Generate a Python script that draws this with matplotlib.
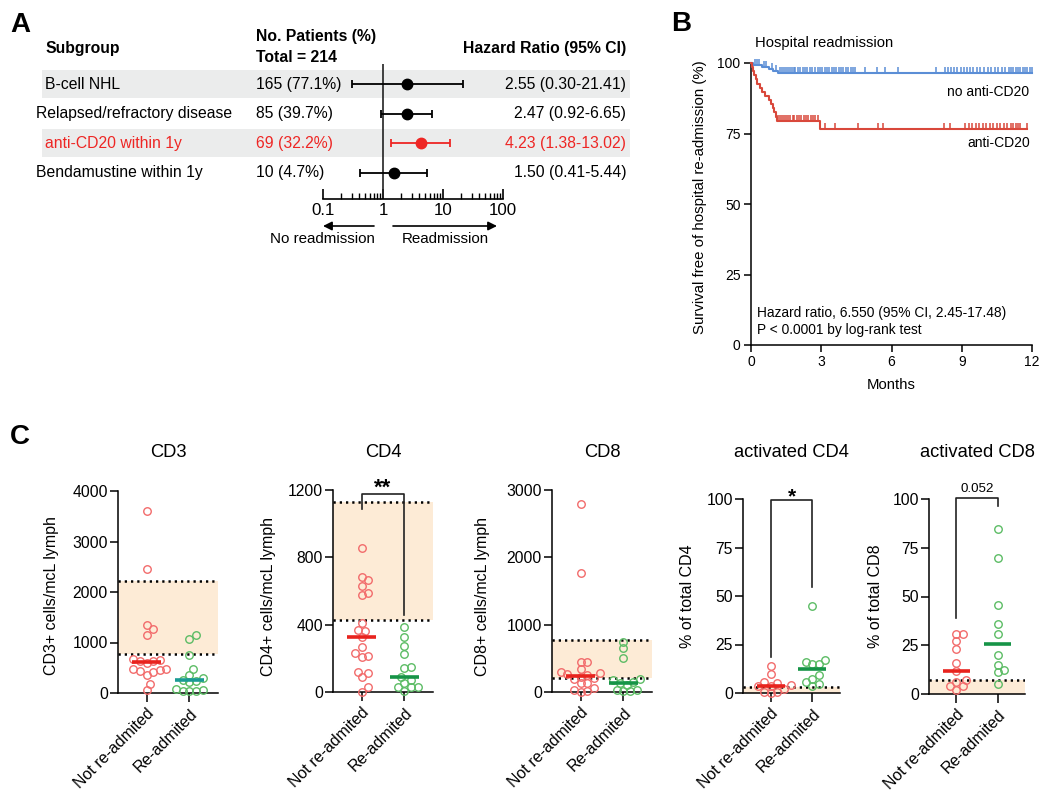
import numpy as np
import matplotlib
matplotlib.use('Agg')
import matplotlib.pyplot as plt
from matplotlib.ticker import LogLocator, NullFormatter
from matplotlib.transforms import blended_transform_factory

plt.rcParams['font.family'] = ['Liberation Sans', 'DejaVu Sans']
plt.rcParams['axes.linewidth'] = 1.1

W, H = 1050, 802

# ---------------- Panel A: forest plot ----------------
subgroups = ['B-cell NHL', 'Relapsed/refractory disease', 'anti-CD20 within 1y', 'Bendamustine within 1y']
patients = [165, 85, 69, 10]
patients_pct = [77.1, 39.7, 32.2, 4.7]
total_patients = 214
hr = [2.55, 2.47, 4.23, 1.50]
hr_lo = [0.30, 0.92, 1.38, 0.41]
hr_hi = [21.41, 6.65, 13.02, 5.44]
hr_highlight = [False, False, True, False]
row_shaded = [True, False, True, False]

# ---------------- Panel B: Kaplan-Meier ----------------
km_no_events = [0.1, 0.45, 0.75, 0.95, 1.15]
km_no_surv = [99.3, 98.6, 97.9, 97.1, 96.3]
km_no_cens = [0.15, 0.25, 0.35, 0.55, 0.65, 0.9, 1.05, 1.25, 1.32, 1.4, 1.5, 1.58, 1.65, 1.75,
              1.83, 1.9, 2.0, 2.1, 2.2, 2.3, 2.4, 2.5, 2.6, 2.75, 2.85, 2.95, 3.05, 3.15, 3.25,
              3.35, 3.45, 3.55, 3.65, 3.75, 3.85, 3.95, 4.05, 4.15, 4.25, 4.35, 4.44, 4.87, 5.4,
              5.72, 6.28, 7.9, 8.3, 8.42, 8.55, 8.65, 8.8, 8.95, 9.1, 9.22, 9.35, 9.5, 9.65, 9.8,
              9.95, 10.1, 10.25, 10.4, 10.55, 10.7, 10.85, 11.0, 11.1, 11.2, 11.3, 11.4, 11.5,
              11.6, 11.7, 11.8, 11.9, 12.0]
km_anti_events = [0.03, 0.08, 0.14, 0.2, 0.27, 0.38, 0.45, 0.6, 0.75, 0.86, 0.93, 1.0, 1.05, 1.1, 2.95]
km_anti_surv = [98.54, 97.08, 95.62, 94.16, 92.7, 91.24, 89.78, 88.32, 86.86, 85.4, 83.94, 82.48,
                81.02, 79.56, 76.6]
km_anti_cens = [1.17, 1.25, 1.33, 1.42, 1.5, 1.6, 1.68, 1.78, 1.85, 1.95, 2.05, 2.15, 2.25, 2.35,
                2.45, 2.55, 2.65, 2.75, 2.86, 3.16, 3.59, 4.57, 5.42, 5.64, 8.24, 8.5, 9.14, 9.3,
                9.45, 9.6, 9.75, 9.9, 10.05, 10.2, 10.35, 10.5, 10.65, 10.8, 10.95, 11.1, 11.2,
                11.3, 11.4, 11.5, 11.79]

# ---------------- Panel C: lymphocyte subsets ----------------
groups = ['Not re-admited', 'Re-admited']
cd3_not = [3600, 2450, 1350, 1260, 1150, 670, 650, 640, 630, 590, 480, 470, 460, 440, 420, 360, 180, 60]
cd3_re = [1150, 1060, 750, 475, 360, 300, 260, 240, 215, 75, 60, 45, 40, 30]
cd4_not = [854, 685, 665, 632, 586, 574, 408, 368, 364, 329, 265, 232, 214, 210, 121, 111, 87, 28, 2]
cd4_re = [388, 325, 275, 224, 150, 141, 90, 71, 51, 31, 28, 28, 8]
cd8_not = [2790, 1760, 450, 440, 340, 290, 280, 270, 250, 230, 210, 200, 140, 130, 60, 30, 20, 5]
cd8_re = [750, 650, 510, 190, 180, 150, 130, 110, 30, 25, 20, 15]
act_cd4_not = [14, 9.8, 5.5, 5.2, 4.1, 3.8, 3.4, 2.0, 0.7, 0.7, 0]
act_cd4_re = [45, 17, 16, 15, 15, 9.4, 7.3, 5.8, 4.6, 3.8]
act_cd8_not = [31, 31, 27, 23, 16, 12, 7.3, 6, 4, 4, 2]
act_cd8_re = [84.6, 69.6, 45.7, 35.8, 30.9, 20.1, 15, 12.1, 11.1, 5.1]

panel_titles = ['CD3', 'CD4', 'CD8', 'activated CD4', 'activated CD8']
panel_ylabels = ['CD3+ cells/mcL lymph', 'CD4+ cells/mcL lymph', 'CD8+ cells/mcL lymph',
                 '% of total CD4', '% of total CD8']
panel_yticks = [[0, 1000, 2000, 3000, 4000], [0, 400, 800, 1200], [0, 1000, 2000, 3000],
                [0, 25, 50, 75, 100], [0, 25, 50, 75, 100]]
# normal range (low, high); low=None -> shaded from 0 with a single dotted line
ref_ranges = [(770, 2220), (430, 1130), (210, 770), (None, 3), (None, 7)]
# significance: (label, bracket top, left leg end, right leg end)
sig_brackets = [None, ('**', 1175, 1085, 457), None, ('*', 99.5, 18.8, 54.4), ('0.052', 100.5, 39, 96.5)]

RED_PT = '#f26b6b'
GREEN_PT = '#5cbc65'
RED_MED = '#e8231e'
GREEN_MED = '#169447'
TEAL_MED = '#1a9b94'
SHADE = '#fdebd6'

fig = plt.figure(figsize=(W / 100, H / 100), dpi=100)


def fx(x):
    return x / W


def fy(y):
    return 1 - y / H


def axes_px(x0, y0, x1, y1):
    return fig.add_axes([x0 / W, 1 - y1 / H, (x1 - x0) / W, (y1 - y0) / H])


# panel letters
for letter, (px, py) in zip('ABC', [(20, 25), (681, 24), (20, 437)]):
    fig.text(fx(px), fy(py), letter, fontsize=20, fontweight='bold', ha='center', va='center')

# ================= Panel A =================
axf = axes_px(323, 64, 503, 199)
axf.set_xscale('log')
axf.set_xlim(0.1, 100)
axf.set_ylim(3.898, -0.678)
axf.patch.set_alpha(0)
for s in ['top', 'right', 'left']:
    axf.spines[s].set_visible(False)
axf.spines['bottom'].set_linewidth(1.2)
axf.set_yticks([])
axf.set_xticks([0.1, 1, 10, 100])
axf.set_xticklabels(['0.1', '1', '10', '100'], fontsize=12.2)
axf.xaxis.set_minor_locator(LogLocator(base=10, subs=np.arange(2, 10)))
axf.xaxis.set_minor_formatter(NullFormatter())
axf.tick_params(axis='x', which='major', direction='in', length=7, width=1.2, pad=3)
axf.tick_params(axis='x', which='minor', direction='in', length=4.3, width=1.0)
axf.axvline(1, color='#222222', lw=1.2, zorder=2)

trans_row = blended_transform_factory(fig.transFigure, axf.transData)
left_x = [45, 36, 45, 36]
for i, name in enumerate(subgroups):
    c = '#ee2624' if hr_highlight[i] else 'black'
    if row_shaded[i]:
        axf.axhspan(i - 0.458, i + 0.458, xmin=(42 - 323) / 180, xmax=(630 - 323) / 180,
                    color='#ebecec', zorder=0, clip_on=False, lw=0)
    axf.errorbar(hr[i], i, xerr=[[hr[i] - hr_lo[i]], [hr_hi[i] - hr[i]]], fmt='o', ms=7.5,
                 color=c, ecolor=c, elinewidth=1.3, capsize=3.2, capthick=1.3, zorder=3)
    axf.text(fx(left_x[i]), i, name, transform=trans_row, ha='left', va='center',
             fontsize=11.3, color=c)
    axf.text(fx(256), i, f'{patients[i]} ({patients_pct[i]}%)', transform=trans_row,
             ha='left', va='center', fontsize=11.3, color=c)
    axf.text(fx(626), i, f'{hr[i]:.2f} ({hr_lo[i]:.2f}-{hr_hi[i]:.2f})', transform=trans_row,
             ha='right', va='center', fontsize=11.3, color=c)

fig.text(fx(45), fy(48), 'Subgroup', fontsize=11.3, fontweight='bold', ha='left', va='center')
fig.text(fx(256), fy(37), 'No. Patients (%)', fontsize=11.3, fontweight='bold', ha='left', va='center')
fig.text(fx(256), fy(58), f'Total = {total_patients}', fontsize=11.3, fontweight='bold',
         ha='left', va='center')
fig.text(fx(626), fy(48), 'Hazard Ratio (95% CI)', fontsize=11.3, fontweight='bold',
         ha='right', va='center')

arrow_kw = dict(arrowstyle='-|>', color='black', lw=1.2, mutation_scale=13, shrinkA=0, shrinkB=0)
fig.patches.append(matplotlib.patches.FancyArrowPatch((fx(374), fy(226)), (fx(323), fy(226)),
                                                      transform=fig.transFigure, **arrow_kw))
fig.patches.append(matplotlib.patches.FancyArrowPatch((fx(393), fy(226)), (fx(497), fy(226)),
                                                      transform=fig.transFigure, **arrow_kw))
fig.text(fx(322), fy(239), 'No readmission', fontsize=10.9, ha='center', va='center')
fig.text(fx(445), fy(239), 'Readmission', fontsize=10.9, ha='center', va='center')

# ================= Panel B =================
axk = axes_px(751, 63, 1032, 345)
axk.set_xlim(0, 12)
axk.set_ylim(0, 100)
for s in ['top', 'right']:
    axk.spines[s].set_visible(False)
axk.set_xticks([0, 3, 6, 9, 12])
axk.set_yticks([0, 25, 50, 75, 100])
axk.tick_params(direction='out', length=5, width=1.1, labelsize=10, pad=2.5)


def km_curve(ax, ev_t, ev_s, cens, color):
    ev_t = np.asarray(ev_t)
    s_all = np.r_[100.0, ev_s]
    t_end = max(max(cens), ev_t.max())
    ax.step(np.r_[0, ev_t, t_end], np.r_[s_all, ev_s[-1]], where='post', color=color,
            lw=1.5, clip_on=False, zorder=3)
    cens = np.asarray(cens)
    cy = s_all[np.searchsorted(ev_t, cens, side='right')]
    ax.plot(cens, cy, ls='none', marker=2, ms=4, mew=1.1, color=color, clip_on=False, zorder=3)


km_curve(axk, km_no_events, km_no_surv, km_no_cens, '#5b8ed6')
km_curve(axk, km_anti_events, km_anti_surv, km_anti_cens, '#d9483b')
axk.text(11.87, 89.7, 'no anti-CD20', ha='right', va='center', fontsize=10)
axk.text(11.94, 71.6, 'anti-CD20', ha='right', va='center', fontsize=10)
axk.text(0.26, 11.3, 'Hazard ratio, 6.550 (95% CI, 2.45-17.48)', ha='left', va='center', fontsize=9.9)
axk.text(0.26, 5.3, 'P < 0.0001 by log-rank test', ha='left', va='center', fontsize=9.9)
fig.text(fx(755), fy(43), 'Hospital readmission', fontsize=10.7, ha='left', va='center')
fig.text(fx(700), fy(197), 'Survival free of hospital re-admission (%)', fontsize=10.8,
         rotation=90, ha='center', va='center')
fig.text(fx(891), fy(385), 'Months', fontsize=10.7, ha='center', va='center')

# ================= Panel C =================
panel_boxes = [(118, 491, 218, 693), (333, 490, 433, 692), (552, 490, 652, 692),
               (743, 499, 840, 693), (929, 499, 1025, 694)]
ylabel_x = [52, 268, 483, 687, 875]
panel_data = [(cd3_not, cd3_re), (cd4_not, cd4_re), (cd8_not, cd8_re),
              (act_cd4_not, act_cd4_re), (act_cd8_not, act_cd8_re)]
green_med = [TEAL_MED, GREEN_MED, GREEN_MED, GREEN_MED, GREEN_MED]


def swarm_offsets(vals, px_per_val, px_per_x, dist_px=6.6, step_px=3.3):
    ypx = np.asarray(vals, float) * px_per_val
    offs = np.zeros(len(ypx))
    placed = []
    for i in np.argsort(ypx):
        k = 0
        while True:
            cands = [0.0] if k == 0 else [k * step_px, -k * step_px]
            hit = None
            for c in cands:
                if all((c - px) ** 2 + (ypx[i] - py) ** 2 >= dist_px ** 2 for px, py in placed):
                    hit = c
                    break
            if hit is not None:
                offs[i] = hit
                placed.append((hit, ypx[i]))
                break
            k += 1
    return offs / px_per_x


for k in range(5):
    x0, y0, x1, y1 = panel_boxes[k]
    ax = axes_px(x0, y0, x1, y1)
    yt = panel_yticks[k]
    ax.set_xlim(-0.67, 1.67)
    ax.set_ylim(0, yt[-1])
    for s in ['top', 'right']:
        ax.spines[s].set_visible(False)
    ax.set_yticks(yt)
    ax.set_xticks([0, 1])
    ax.set_xticklabels(groups, rotation=45, ha='right', rotation_mode='anchor', fontsize=11.5)
    ax.tick_params(axis='y', direction='out', length=5.8, width=1.1, labelsize=11.3, pad=1.5)
    ax.tick_params(axis='x', direction='out', length=6.5, width=1.1, pad=3)

    lo, hi = ref_ranges[k]
    ax.axhspan(0 if lo is None else lo, hi, color=SHADE, lw=0, zorder=0)
    dot = dict(color='black', lw=1.8, ls=(0, (0.9, 1.6)), zorder=1)
    ax.axhline(hi, **dot)
    if lo is not None:
        ax.axhline(lo, **dot)

    px_per_val = (y1 - y0) / yt[-1]
    px_per_x = (x1 - x0) / 2.34
    for g, vals in enumerate(panel_data[k]):
        offs = swarm_offsets(vals, px_per_val, px_per_x)
        ec = RED_PT if g == 0 else GREEN_PT
        ax.plot(g + offs, vals, ls='none', marker='o', ms=5.4, mfc='none', mec=ec, mew=1.0,
                clip_on=False, zorder=3)
        med = np.median(vals)
        ax.plot([g - 0.34, g + 0.34], [med, med], color=RED_MED if g == 0 else green_med[k],
                lw=2.6, solid_capstyle='butt', zorder=4)

    if sig_brackets[k] is not None:
        label, top, left_end, right_end = sig_brackets[k]
        ax.plot([0, 0, 1, 1], [left_end, top, top, right_end], color='#222222', lw=1.2,
                clip_on=False, zorder=5)
        if label == '0.052':
            ax.annotate(label, (0.5, top), xytext=(0, 4.3), textcoords='offset points',
                        ha='center', va='baseline', fontsize=9.6, annotation_clip=False)
        else:
            ax.annotate(label, (0.5, top), xytext=(0, -2 if label == '*' else 0),
                        textcoords='offset points', ha='center', va='baseline',
                        fontsize=16 if label == '**' else 15, fontweight='bold',
                        annotation_clip=False)

    fig.text(fx((x0 + x1) / 2), fy(453), panel_titles[k], fontsize=13.2, ha='center', va='center')
    fig.text(fx(ylabel_x[k]), fy(596), panel_ylabels[k], fontsize=11.5, rotation=90,
             ha='center', va='center')

fig.savefig('out.png', dpi=100)
